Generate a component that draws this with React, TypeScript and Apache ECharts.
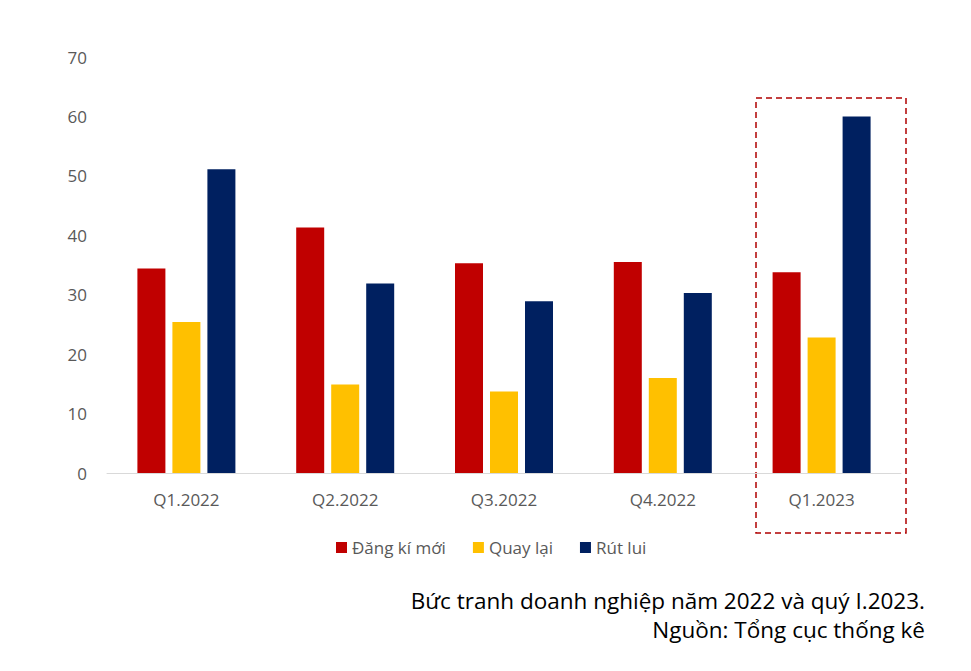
import React, { useEffect, useRef } from "react";
import * as echarts from "echarts";

const categories = ["Q1.2022", "Q2.2022", "Q3.2022", "Q4.2022", "Q1.2023"];
const dangKiMoi = [34.4, 41.3, 35.3, 35.5, 33.8];
const quayLai = [25.4, 14.9, 13.7, 16.0, 22.8];
const rutLui = [51.1, 31.9, 28.9, 30.3, 60.0];
const seriesNames = ["Đăng kí mới", "Quay lại", "Rút lui"];
const captionLines = ["Bức tranh doanh nghiệp năm 2022 và quý I.2023.", "Nguồn: Tổng cục thống kê"];

export default function App() {
  const ref = useRef<HTMLDivElement>(null);
  useEffect(() => {
    if (!ref.current) return;
    const chart = echarts.init(ref.current, null, { renderer: "svg" });
    const font = "'Open Sans', 'Noto Sans', sans-serif";
    const mk = (name: string, data: number[], color: string) => ({
      name,
      type: "bar",
      data,
      barWidth: 28,
      barGap: "25%",
      itemStyle: { color },
    });
    chart.setOption({
      animation: false,
      backgroundColor: "#ffffff",
      textStyle: { fontFamily: font },
      grid: { left: 107, right: 70, top: 57, bottom: 198 },
      legend: {
        data: seriesNames,
        left: 331,
        top: 534,
        itemWidth: 11,
        itemHeight: 11,
        itemGap: 27,
        icon: "rect",
        textStyle: { color: "#595959", fontSize: 17, fontFamily: font },
      },
      xAxis: {
        type: "category",
        data: categories,
        axisLine: { lineStyle: { color: "#d9d9d9", width: 1 } },
        axisTick: { show: false },
        axisLabel: { color: "#595959", fontSize: 17, margin: 18, fontFamily: font },
      },
      yAxis: {
        type: "value",
        min: 0,
        max: 70,
        interval: 10,
        splitLine: { show: false },
        axisLine: { show: false },
        axisTick: { show: false },
        axisLabel: { color: "#595959", fontSize: 17, margin: 20, fontFamily: font },
      },
      series: [
        mk(seriesNames[0], dangKiMoi, "#C00000"),
        mk(seriesNames[1], quayLai, "#FFC000"),
        mk(seriesNames[2], rutLui, "#002060"),
      ],
      graphic: [
        {
          type: "rect",
          shape: { x: 756, y: 98, width: 150, height: 435 },
          style: { fill: "none", stroke: "#B00000", lineWidth: 1.5, lineDash: [6, 4] },
        },
        {
          type: "text",
          right: 46,
          top: 589,
          style: { text: captionLines[0], fill: "#000000", fontSize: 22.5, fontFamily: font, textAlign: "right" },
        },
        {
          type: "text",
          right: 46,
          top: 618,
          style: { text: captionLines[1], fill: "#000000", fontSize: 22.5, fontFamily: font, textAlign: "right" },
        },
      ],
    });
    return () => chart.dispose();
  }, []);
  return <div ref={ref} style={{ width: 971, height: 671, position: "absolute", left: 0, top: 0 }} />;
}
